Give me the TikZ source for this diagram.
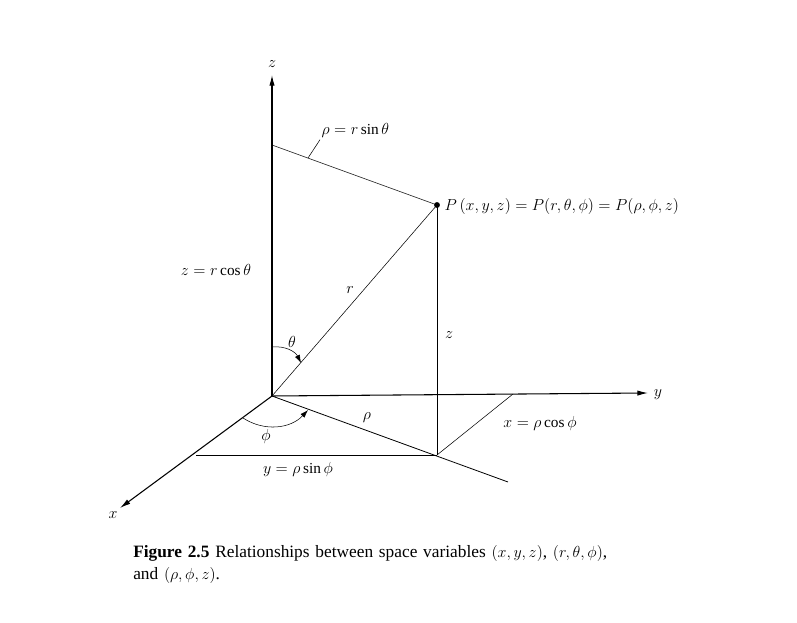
\documentclass[tikz,border=0pt]{standalone}
\usepackage{fontspec}
\setmainfont{Liberation Serif}
\usetikzlibrary{arrows.meta}
\begin{document}
\begin{tikzpicture}[x=0.75pt,y=-0.75pt,font=\fontsize{11.5}{13}\selectfont,
  axis/.style={-{Latex[length=8pt,width=4pt]},thick},
  thinline/.style={thin}]
\useasboundingbox (0,0) rectangle (797,623);
% points
\coordinate (O) at (272,396);
\coordinate (ztip) at (272,75);
\coordinate (ytip) at (648,393);
\coordinate (xtip) at (120,508);
\coordinate (P) at (437,205);
\coordinate (Q) at (437,455);
\coordinate (rhoend) at (508,482);
\coordinate (ztop) at (272,145);
\coordinate (xfoot) at (196,455);
\coordinate (yfoot) at (513,394);
\coordinate (lead) at (308,158);
% axes
\draw[axis] (O) -- (ztip);
\draw[axis] (O) -- (ytip);
\draw[axis] (O) -- (xtip);
\node (zlab) at (272,64) {$z$};
\node (ylab) at (658,395) {$y$};
\node (xlab) at (113,515) {$x$};
% construction lines
\draw[thinline] (ztop) -- (P);
\draw[thinline] (O) -- (P);
\draw[thinline] (P) -- (Q);
\draw[semithick] (O) -- (rhoend);
\draw[thinline] (xfoot) -- (Q);
\draw[thinline] (Q) -- (yfoot);
\fill (P) circle (2.2pt);
% angles
\draw[-{Latex[length=6pt,width=4pt]}] (272,347) to[bend left=35] (301,363);
\draw[-{Latex[length=6pt,width=4pt]}] (243,418) to[bend right=40] (308,410);
% labels
\node[anchor=west,inner sep=1pt] (Plab) at (443,207) {$P\,(x,y,z)=P(r,\theta,\phi)=P(\rho,\phi,z)$};
\node[anchor=west,inner sep=1pt] (rholab) at (320,131) {$\rho=r\sin\theta$};
\draw[thinline] (lead) -- (rholab.south west);
\node (zcos) at (216,270) {$z=r\cos\theta$};
\node (rlab) at (350,290) {$r$};
\node (thlab) at (292,342) {$\theta$};
\node (zlab2) at (449,335) {$z$};
\node (rholab2) at (367,418) {$\rho$};
\node (xcos) at (540,424) {$x=\rho\cos\phi$};
\node (phlab) at (266,437) {$\phi$};
\node (ysin) at (298,470) {$y=\rho\sin\phi$};
\node[anchor=north west,inner sep=0pt,text width=372pt,align=left,font=\fontsize{13}{16.5}\selectfont] (cap) at (133,545)
  {\textbf{Figure 2.5} Relationships between space variables $(x,y,z)$, $(r,\theta,\phi)$, and $(\rho,\phi,z)$.};
\end{tikzpicture}
\end{document}
